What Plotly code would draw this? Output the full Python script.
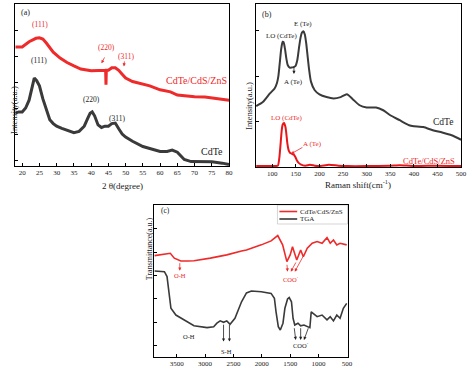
import plotly.graph_objects as go

# ---------------- (a) XRD ----------------
xrd_theta_cdte = [18, 19, 20, 21, 22, 22.8, 23.5, 24.2, 25, 26, 27, 28, 29, 30, 31.5, 33, 35, 36.5, 38, 39, 39.7, 40.3,
                  41, 42, 43, 44, 45, 46, 47, 48, 49, 50, 52, 55, 57, 60, 62, 63.5, 65, 66, 67, 69, 72, 75, 78, 80]
xrd_int_cdte = [1.8, 1.85, 1.85, 2.0, 2.3, 2.8, 3.15, 3.05, 2.85, 2.35, 1.9, 1.55, 1.4, 1.3, 1.22, 1.15, 1.05, 1.1, 1.3,
                1.6, 1.8, 1.85, 1.7, 1.35, 1.25, 1.3, 1.3, 1.4, 1.42, 1.2, 1.0, 0.88, 0.72, 0.52, 0.45, 0.33, 0.33, 0.38,
                0.3, 0.15, 0.02, -0.06, -0.06, -0.07, -0.12, -0.17]
xrd_theta_core = [18, 20, 22, 23, 24, 25, 26, 27, 28, 29, 31, 33, 35, 37, 40, 42, 43.5, 44.2, 44.3, 44.4, 45, 46, 47,
                  48, 49, 50, 52, 54, 57, 60, 63, 65, 68, 70, 73, 75, 78, 80]
xrd_int_core = [4.35, 4.35, 4.55, 4.62, 4.68, 4.7, 4.65, 4.5, 4.3, 4.15, 3.92, 3.75, 3.62, 3.5, 3.43, 3.45, 3.45, 3.45,
                2.9, 3.45, 3.45, 3.55, 3.55, 3.45, 3.3, 3.15, 3.02, 2.95, 2.85, 2.7, 2.62, 2.5, 2.45, 2.43, 2.42, 2.38,
                2.33, 2.3]

# ---------------- (b) Raman ----------------
raman_x_cdte = [66, 80, 95, 105, 110, 113, 116, 119, 122, 124, 127, 130, 133, 137, 141, 145, 149, 153, 157, 160, 163,
                166, 169, 172, 175, 178, 182, 190, 200, 215, 230, 245, 258, 270, 285, 300, 320, 335, 350, 370, 390, 400,
                420, 440, 460, 480, 500]
raman_y_cdte = [1.34, 1.43, 1.62, 1.73, 1.85, 2.0, 2.3, 2.6, 2.76, 2.75, 2.6, 2.38, 2.24, 2.19, 2.19, 2.2, 2.22, 2.35,
                2.65, 2.85, 2.96, 2.99, 2.92, 2.72, 2.43, 2.15, 1.88, 1.69, 1.6, 1.54, 1.51, 1.54, 1.6, 1.5, 1.36, 1.31,
                1.31, 1.25, 1.14, 1.03, 0.92, 0.9, 0.88, 0.81, 0.76, 0.70, 0.6]
raman_x_core = [66, 90, 105, 112, 115, 118, 120, 122, 125, 128, 130, 132, 135, 138, 142, 146, 149, 152, 156, 160, 170,
                180, 190, 200, 220, 240, 260, 300, 350, 370, 400, 450, 500]
raman_y_core = [0.02, 0.02, 0.02, 0.03, 0.2, 0.55, 0.8, 0.93, 0.97, 0.88, 0.72, 0.52, 0.36, 0.31, 0.29, 0.27, 0.22,
                0.15, 0.09, 0.06, 0.03, 0.05, 0.03, 0.02, 0.05, 0.03, 0.02, 0.02, 0.03, 0.04, 0.02, 0.03, 0.02]

# ---------------- (c) FTIR ----------------
ftir_x_core = [3890, 3780, 3660, 3613, 3543, 3428, 3300, 3196, 2908, 2618, 2358, 2271, 2010, 1837, 1720, 1634, 1559,
               1501, 1460, 1385, 1316, 1269, 1200, 1113, 1026, 939, 852, 795, 738, 679, 622, 505]
ftir_y_core = [3.85, 3.88, 3.91, 3.95, 3.74, 3.62, 3.62, 3.63, 3.74, 3.88, 4.05, 4.09, 4.31, 4.48, 4.71, 4.31, 3.59,
               3.88, 4.23, 3.66, 4.09, 3.8, 4.17, 4.38, 4.45, 4.38, 4.62, 4.38, 4.52, 4.31, 4.38, 4.31]
ftir_x_tga = [3890, 3717, 3671, 3630, 3602, 3515, 3370, 3196, 2965, 2849, 2792, 2734, 2675, 2618, 2560, 2474, 2358,
              2271, 2184, 2010, 1837, 1779, 1750, 1710, 1675, 1628, 1594, 1547, 1518, 1478, 1450, 1420, 1363, 1316,
              1258, 1200, 1154, 1130, 1095, 1026, 939, 852, 795, 738, 679, 622, 564, 505]
ftir_y_tga = [3.19, 3.16, 2.95, 2.16, 1.59, 1.3, 1.09, 0.84, 0.76, 0.8, 0.95, 1.05, 0.99, 1.05, 0.9, 1.16, 1.87, 2.25,
              2.33, 2.3, 2.23, 2.02, 1.44, 0.8, 0.66, 0.95, 1.59, 1.99, 2.05, 1.87, 1.16, 0.87, 0.95, 0.84, 0.87, 0.8,
              0.76, 1.44, 1.37, 1.23, 1.3, 1.09, 1.23, 1.05, 1.3, 1.16, 1.59, 1.8]

RED = "#ee2a2a"
BLACK = "#3a3a3a"
FONT = "Liberation Serif"

fig = go.Figure()
fig.add_trace(go.Scatter(x=xrd_theta_core, y=xrd_int_core, mode="lines", line=dict(color=RED, width=3),
                         xaxis="x", yaxis="y", showlegend=False))
fig.add_trace(go.Scatter(x=xrd_theta_cdte, y=xrd_int_cdte, mode="lines", line=dict(color=BLACK, width=3),
                         xaxis="x", yaxis="y", showlegend=False))
fig.add_trace(go.Scatter(x=raman_x_cdte, y=raman_y_cdte, mode="lines", line=dict(color=BLACK, width=2, shape="spline", smoothing=0.6),
                         xaxis="x2", yaxis="y2", showlegend=False))
fig.add_trace(go.Scatter(x=raman_x_core, y=raman_y_core, mode="lines", line=dict(color="#e8161b", width=2, shape="spline", smoothing=0.5),
                         xaxis="x2", yaxis="y2", showlegend=False))
fig.add_trace(go.Scatter(x=ftir_x_core, y=ftir_y_core, mode="lines", line=dict(color=RED, width=1.6),
                         xaxis="x3", yaxis="y3", showlegend=False))
fig.add_trace(go.Scatter(x=ftir_x_tga, y=ftir_y_tga, mode="lines", line=dict(color=BLACK, width=1.6),
                         xaxis="x3", yaxis="y3", showlegend=False))

W, H = 474, 370


def dx(px):
    return px / W


def dy(py):
    return 1 - py / H


axcommon = dict(showline=True, linecolor="black", linewidth=1, mirror=True, ticks="inside", ticklen=3,
                tickcolor="black", showgrid=False, zeroline=False, tickfont=dict(family=FONT, size=7, color="#222"))

fig.update_layout(
    width=W, height=H, margin=dict(l=0, r=0, t=0, b=0),
    paper_bgcolor="white", plot_bgcolor="white", showlegend=False,
    xaxis=dict(domain=[dx(15.5), dx(232)], range=[18, 80], dtick=5, tick0=20, anchor="y", **axcommon),
    yaxis=dict(domain=[dy(166), dy(4)], range=[-0.23, 6.0], tickvals=[0, 1, 2, 3, 4, 5], showticklabels=False,
               anchor="x", **axcommon),
    xaxis2=dict(domain=[dx(259), dx(467)], range=[65, 500], dtick=50, tick0=100, anchor="y2", **axcommon),
    yaxis2=dict(domain=[dy(167), dy(4)], range=[0, 3.59], tickvals=[1, 2, 3], showticklabels=False,
                anchor="x2", **axcommon),
    xaxis3=dict(domain=[dx(156), dx(352)], range=[3900, 490], tickvals=[3500, 3000, 2500, 2000, 1500, 1000, 500],
                anchor="y3", **axcommon),
    yaxis3=dict(domain=[dy(357), dy(205)], range=[-0.5, 6.02], tickvals=[0, 1, 2, 3, 4, 5], showticklabels=False,
                anchor="x3", **axcommon),
)

ann = []


def txt(x, y, t, xr, yr, size=7.5, color="#222", **kw):
    ann.append(dict(x=x, y=y, text=t, xref=xr, yref=yr, showarrow=False,
                    font=dict(family=FONT, size=size, color=color), **kw))


def arrow(x, y, ax, ay, xr, yr, color):
    ann.append(dict(x=x, y=y, ax=ax, ay=ay, xref=xr, yref=yr, axref=xr, ayref=yr, text="", showarrow=True,
                    arrowhead=2, arrowsize=0.8, arrowwidth=0.8, arrowcolor=color))


# (a)
txt(21, 5.69, "(a)", "x", "y", 8)
txt(25.3, 5.23, "(111)", "x", "y", 7.5, RED)
txt(44.4, 4.31, "(220)", "x", "y", 7.5, RED)
txt(50.0, 4.0, "(311)", "x", "y", 7.5, RED)
arrow(43.0, 3.72, 44.1, 4.0, "x", "y", RED)
arrow(49.5, 3.6, 49.7, 3.85, "x", "y", RED)
txt(25, 3.81, "(111)", "x", "y", 7.5, "#222")
txt(40.2, 2.31, "(220)", "x", "y", 7.5, "#222")
txt(47.4, 1.58, "(311)", "x", "y", 7.5, "#222")
txt(80.0, 3.04, "CdTe/CdS/ZnS", "x", "y", 10, RED, xanchor="right")
txt(78.8, 0.31, "CdTe", "x", "y", 10, "#222", xanchor="right")
txt(0.5, dy(186), "2 θ(degree)", "x domain", "paper", 9)
txt(dx(7), dy(84), "Intensity(a.u.)", "paper", "paper", 8.5, textangle=-90)

# (b)
txt(88, 3.36, "(b)", "x2", "y2", 8)
txt(119.5, 2.89, "LO (CdTe)", "x2", "y2", 7)
txt(165, 3.16, "E (Te)", "x2", "y2", 7)
txt(146, 1.87, "A (Te)", "x2", "y2", 7)
arrow(146, 2.05, 146, 2.24, "x2", "y2", "#222")
txt(462, 1.0, "CdTe", "x2", "y2", 9.5, "#222", xanchor="center")
txt(130, 1.09, "LO (CdTe)", "x2", "y2", 7, RED)
txt(186, 0.51, "A (Te)", "x2", "y2", 7, RED)
arrow(140, 0.29, 167, 0.45, "x2", "y2", RED)
txt(491, 0.13, "CdTe/CdS/ZnS", "x2", "y2", 8.5, RED, xanchor="right")
txt(0.5, dy(184), "Raman shift(cm<sup>-1</sup>)", "x2 domain", "paper", 9)
txt(dx(252), dy(80), "Intensity(a.u.)", "paper", "paper", 8.5, textangle=-90)

# (c)
txt(3700, 5.77, "(c)", "x3", "y3", 7.5)
arrow(3446, 3.2, 3446, 3.59, "x3", "y3", RED)
txt(3446, 3.0, "O-H", "x3", "y3", 6.5, RED)
txt(3283, 0.37, "O-H", "x3", "y3", 6.5, "#222")
arrow(2675, 0.16, 2675, 0.95, "x3", "y3", "#222")
arrow(2571, 0.16, 2571, 0.95, "x3", "y3", "#222")
txt(2618, -0.27, "S-H", "x3", "y3", 6.5, "#222")
arrow(1547, 3.16, 1559, 3.52, "x3", "y3", RED)
arrow(1490, 3.16, 1385, 3.62, "x3", "y3", RED)
arrow(1420, 3.16, 1258, 3.88, "x3", "y3", RED)
txt(1478, 2.85, "COO<sup>-</sup>", "x3", "y3", 6.5, RED)
arrow(1403, 0.23, 1432, 0.8, "x3", "y3", "#222")
arrow(1316, 0.23, 1316, 0.8, "x3", "y3", "#222")
arrow(1258, 0.23, 1172, 0.8, "x3", "y3", "#222")
txt(1316, 0.015, "COO<sup>-</sup>", "x3", "y3", 6.5, "#222")
txt(dx(145), dy(282), "Transmittance(a.u.)", "paper", "paper", 8, textangle=-90)

# legend for (c), drawn by hand
legend_items = [("CdTe/CdS/ZnS", RED), ("TGA", BLACK)]
shapes = [dict(type="rect", xref="paper", yref="paper", x0=dx(281), x1=dx(352), y0=dy(224), y1=dy(205),
               line=dict(color="#bbbbbb", width=0.6), fillcolor="white", layer="below")]
for i, (name, col) in enumerate(legend_items):
    yy = dy(211.5 + 7.5 * i)
    shapes.append(dict(type="line", xref="paper", yref="paper", x0=dx(283), x1=dx(301), y0=yy, y1=yy,
                       line=dict(color=col, width=1.6)))
    txt(dx(302), yy, name, "paper", "paper", 7, "#222", xanchor="left")

fig.update_layout(annotations=ann, shapes=shapes)
fig.write_html("out.html", config={"displayModeBar": False},
               post_script="document.body.style.margin='0';document.body.style.overflow='hidden';")
